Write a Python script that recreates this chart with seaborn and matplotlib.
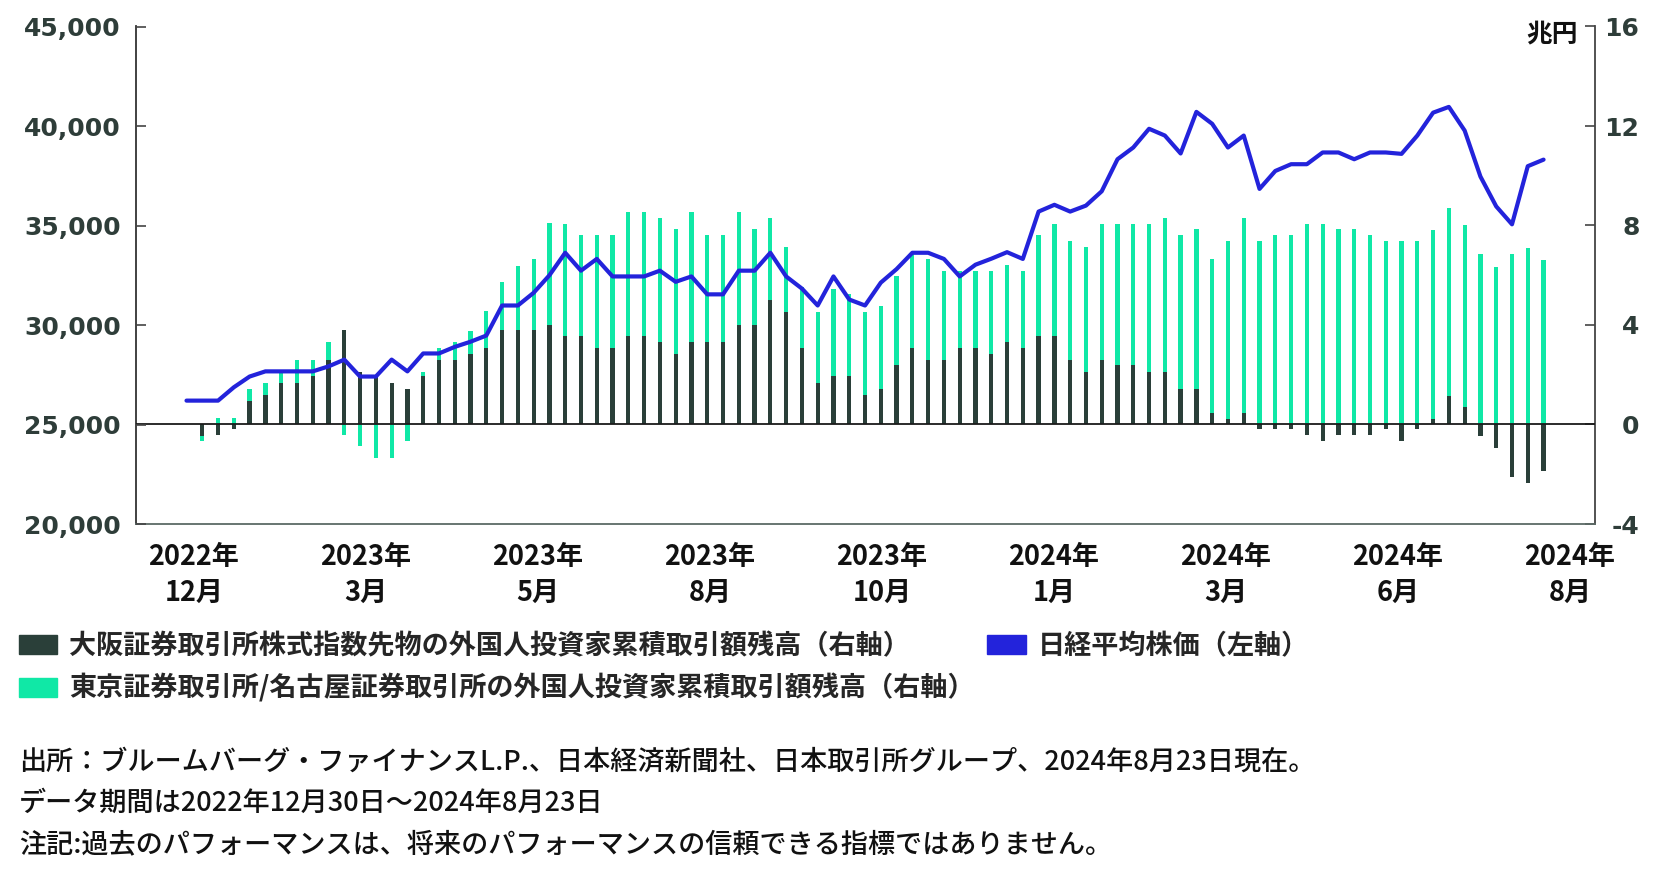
import matplotlib
matplotlib.use("Agg")
import matplotlib.pyplot as plt
import seaborn as sns
import pandas as pd
import numpy as np
from matplotlib.patches import Patch

W, H = 1664, 871

# weekly data, 2022-12-30 .. 2024-08-23
dates = pd.date_range("2022-12-30", "2024-08-23", freq="7D")

# 日経平均株価 (left axis, yen)
nikkei = [
    26200, 26200, 26200, 26870, 27410, 27670, 27670, 27670, 27670, 27920,
    28260, 27410, 27410, 28260, 27670, 28570, 28570, 28900, 29160, 29470,
    30980, 30980, 31620, 32500, 33630, 32730, 33320, 32440, 32440, 32440,
    32730, 32170, 32440, 31540, 31540, 32730, 32730, 33630, 32440, 31830,
    30980, 32440, 31280, 30980, 32130, 32810, 33630, 33630, 33320, 32440,
    33030, 33330, 33660, 33320, 35700, 36040, 35700, 36000, 36720, 38330,
    38920, 39860, 39520, 38620, 40710, 40110, 38920, 39520, 36840, 37740,
    38080, 38080, 38670, 38670, 38330, 38670, 38670, 38600, 39520, 40670,
    40960, 39770, 37460, 35960, 35060, 37980, 38310,
]

# 大阪取引所 株式指数先物 外国人投資家累積 (right axis, 兆円)
osaka = [
    0.00, -0.48, -0.43, -0.20, 0.95, 1.20, 1.67, 1.67, 1.93, 2.61,
    3.80, 2.13, 1.93, 1.67, 1.43, 1.93, 2.61, 2.61, 2.85, 3.06,
    3.78, 3.78, 3.78, 4.01, 3.56, 3.56, 3.06, 3.06, 3.56, 3.56,
    3.30, 2.85, 3.30, 3.30, 3.30, 4.01, 4.01, 5.00, 4.52, 3.06,
    1.67, 1.93, 1.93, 1.20, 1.43, 2.38, 3.06, 2.61, 2.61, 3.06,
    3.06, 2.85, 3.30, 3.06, 3.56, 3.56, 2.61, 2.13, 2.61, 2.38,
    2.38, 2.13, 2.13, 1.43, 1.43, 0.48, 0.23, 0.48, -0.20, -0.20,
    -0.20, -0.43, -0.68, -0.43, -0.43, -0.43, -0.20, -0.68, -0.20, 0.23,
    1.15, 0.69, -0.46, -0.95, -2.12, -2.34, -1.88,
]

# 東京/名古屋 外国人投資家累積 (right axis, 兆円)
tokyo = [
    0.00, -0.20, 0.27, 0.27, 0.48, 0.47, 0.43, 0.94, 0.68, 0.69,
    -0.41, -0.88, -1.36, -1.36, -0.68, 0.20, 0.45, 0.69, 0.92, 1.49,
    1.93, 2.61, 2.89, 4.08, 4.52, 4.05, 4.55, 4.55, 4.97, 4.97,
    5.02, 4.99, 5.23, 4.31, 4.31, 4.52, 3.83, 3.32, 2.61, 2.45,
    2.85, 3.53, 3.30, 3.32, 3.35, 3.57, 3.80, 4.05, 3.57, 3.12,
    3.12, 3.33, 3.11, 3.12, 4.05, 4.52, 4.75, 5.00, 5.47, 5.70,
    5.70, 5.95, 6.19, 6.18, 6.41, 6.18, 7.13, 7.84, 7.36, 7.61,
    7.61, 8.08, 8.08, 7.84, 7.84, 7.61, 7.36, 7.36, 7.36, 7.57,
    7.57, 7.31, 6.85, 6.35, 6.85, 7.08, 6.62,
]

tick_labels = ["2022年\n12月", "2023年\n3月", "2023年\n5月", "2023年\n8月", "2023年\n10月",
               "2024年\n1月", "2024年\n3月", "2024年\n6月", "2024年\n8月"]
left_ticks = [20000, 25000, 30000, 35000, 40000, 45000]
right_ticks = [-4, 0, 4, 8, 12, 16]

legend_labels = ["大阪証券取引所株式指数先物の外国人投資家累積取引額残高（右軸）",
                 "東京証券取引所/名古屋証券取引所の外国人投資家累積取引額残高（右軸）",
                 "日経平均株価（左軸）"]
notes = ["出所：ブルームバーグ・ファイナンスL.P.、日本経済新聞社、日本取引所グループ、2024年8月23日現在。",
         "データ期間は2022年12月30日～2024年8月23日",
         "注記:過去のパフォーマンスは、将来のパフォーマンスの信頼できる指標ではありません。"]

DARK = "#2a3f39"
GREEN = "#10e8a6"
BLUE = "#2323db"
NUM = "#2e3d39"

sns.set_style("white")
plt.rcParams["font.family"] = ["Noto Sans CJK JP", "DejaVu Sans"]

df = pd.DataFrame({"week": (dates - dates[0]).days // 7,
                   "osaka": osaka, "tokyo": tokyo, "nikkei": nikkei})
# stacked like a spreadsheet: positives stack up, negatives stack down
same = np.sign(df["osaka"]) == np.sign(df["tokyo"])
df["tokyo_top"] = np.where(same, df["osaka"] + df["tokyo"], df["tokyo"])

fig = plt.figure(figsize=(W / 100, H / 100), dpi=100)
ax = fig.add_axes([136 / W, 1 - 524 / H, (1595 - 136) / W, (524 - 26.5) / H])

sns.barplot(data=df, x="week", y="tokyo_top", native_scale=True, width=0.27,
            color=GREEN, saturation=1, errorbar=None, linewidth=0, ax=ax, zorder=2)
sns.barplot(data=df, x="week", y="osaka", native_scale=True, width=0.27,
            color=DARK, saturation=1, errorbar=None, linewidth=0, ax=ax, zorder=3)
ax.axhline(0, color="#1a1a1a", lw=1.3, zorder=4)

ax2 = ax.twinx()
sns.lineplot(data=df, x="week", y="nikkei", color=BLUE, linewidth=3.0, ax=ax2, zorder=5)

# axes scales
ax.set_xlim(-3.2, 89.26)
ax.set_ylim(-4, 16)
ax2.set_ylim(20000, 45000)
for a in (ax, ax2):
    a.set_xlabel("")
    a.set_ylabel("")

# right axis (bars) on the right, left axis (line) on the left
ax.yaxis.tick_right()
ax2.yaxis.tick_left()
ax.set_yticks(right_ticks)
ax.set_yticklabels([str(v) for v in right_ticks], ha="right",
                   family="DejaVu Sans", weight="bold", color=NUM, fontsize=18)
ax.tick_params(axis="y", direction="in", length=7, width=1.2, color="#444444", pad=32)
ax2.set_yticks(left_ticks)
ax2.set_yticklabels([f"{v:,}" for v in left_ticks],
                    family="DejaVu Sans", weight="bold", color=NUM, fontsize=18)
ax2.tick_params(axis="y", direction="in", length=7, width=1.2, color="#444444", pad=11)

# x axis: tick marks every 10.8 weeks, labels slightly wider spaced
ax.set_xticks([0.475 + 10.9 * i for i in range(len(tick_labels))])
ax.set_xticklabels(tick_labels, fontsize=19.5, weight="bold", color="#111111",
                   linespacing=1.35)
ax.set_xticks([10.8 * i for i in range(len(tick_labels))], minor=True)
ax.tick_params(axis="x", which="major", length=0, pad=14)
ax.tick_params(axis="x", which="minor", direction="in", length=6, width=1.2, color="#555555")

for s in ("left", "right", "bottom"):
    ax.spines[s].set_visible(True)
    ax.spines[s].set_linewidth(1.3)
ax.spines["left"].set_color("#333333")
ax.spines["right"].set_color("#444444")
ax.spines["bottom"].set_color("#5c6a66")
ax.spines["top"].set_visible(False)
for s in ax2.spines.values():
    s.set_visible(False)
ax.grid(False)
ax2.grid(False)

fig.text(1578 / W, 1 - 34 / H, "兆円", ha="right", va="center",
         fontsize=18.5, weight="bold", color="#111111")

handles = [Patch(color=DARK), Patch(color=GREEN), Patch(color=BLUE)]
fig.legend(handles, legend_labels, loc="upper left", bbox_to_anchor=(19 / W, 1 - 632 / H),
           ncol=2, frameon=False, handlelength=1.42, handleheight=0.7,
           handletextpad=0.44, columnspacing=0.45, labelspacing=0.5,
           borderpad=0, borderaxespad=0,
           prop={"family": ["Noto Sans CJK JP", "DejaVu Sans"], "weight": "bold", "size": 19.5})

for i, note in enumerate(notes):
    fig.text(19 / W, 1 - (762 + 41.5 * i) / H, note, ha="left", va="center",
             fontsize=19.5, color="#111111", weight="medium")

fig.savefig("out.png", dpi=100)
